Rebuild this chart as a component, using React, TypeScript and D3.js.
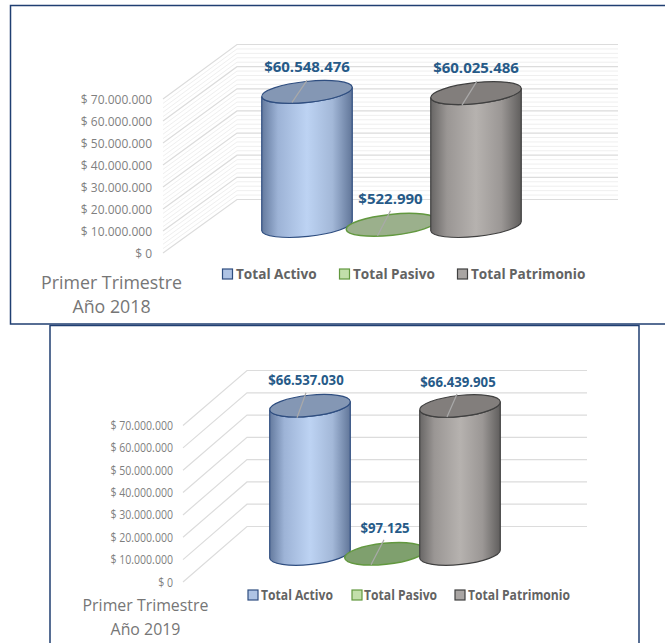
import * as d3 from 'd3'

const categories = ['Total Activo', 'Total Pasivo', 'Total Patrimonio']
const values2018 = [60548476, 522990, 60025486]
const values2019 = [66537030, 97125, 66439905]
const majorTicks = [0, 10000000, 20000000, 30000000, 40000000, 50000000, 60000000, 70000000]
const minorTicks = d3.range(0, 70000001, 2000000)

const FONT = '"Open Sans", "Noto Sans", sans-serif'
const TILT = -6

const locale = d3.formatLocale({ decimal: ',', thousands: '.', grouping: [3], currency: ['$ ', ''] })
const tickFormat = locale.format('$,')
const labelFormat = locale.format(',')

const palette = [
  { top: '#8497b4', edge: '#2f4e80', swatch: '#aec3e4', stops: ['#647a9e', '#9db3d6', '#bdd3f3', '#a3b8d8', '#617699'] },
  { top: '#9bb08c', edge: '#62983f', swatch: '#c2dfaa', stops: ['#9bb08c', '#9bb08c', '#9bb08c', '#9bb08c', '#9bb08c'] },
  { top: '#827e7c', edge: '#404040', swatch: '#a9a5a3', stops: ['#686665', '#9a9694', '#b6b2af', '#9b9795', '#605e5d'] },
]
const stopAt = [0, 0.18, 0.5, 0.78, 1]

type PanelProps = {
  id: string
  values: number[]
  title: string[]
  squeeze: number
  tickRight: number
  wallFront: number
  wallBack: number
  wallRight: number
  front: [number, number]
  back: [number, number]
  minor: boolean
  barX: [number, number]
  barBase: number
  rx: number
  ry: number
  labelGap: number[]
  labelShift: number[]
  leaders: number[][]
  swatchX: number[]
  textX: number[]
  legendY: number
  titleX: number
  titleY: number[]
  titleSize: number
  legendSize: number
  pasivoFill: string
}

const Label = ({ x, y, squeeze, anchor, children, ...rest }: any) => (
  <text
    transform={`translate(${x},${y}) scale(${squeeze},1)`}
    textAnchor={anchor}
    fontFamily={FONT}
    {...rest}
  >
    {children}
  </text>
)

const Panel = (p: PanelProps) => {
  const yFront = d3.scaleLinear().domain([0, 70000000]).range(p.front)
  const yBack = d3.scaleLinear().domain([0, 70000000]).range(p.back)
  const x = d3.scalePoint<string>().domain(categories).range(p.barX)
  // same units as the back wall, moved down to the bar floor
  const yBar = d3.scaleLinear().domain([0, 70000000]).range([p.barBase, p.barBase - (p.back[0] - p.back[1])])

  const rad = (TILT * Math.PI) / 180
  const dx = p.rx * Math.cos(rad)
  const dy = p.rx * Math.sin(rad)

  const side = (cx: number, top: number, base: number) =>
    `M${cx - dx},${top - dy}L${cx - dx},${base - dy}` +
    `A${p.rx},${p.ry} ${TILT} 0 0 ${cx + dx},${base + dy}` +
    `L${cx + dx},${top + dy}` +
    `A${p.rx},${p.ry} ${TILT} 0 1 ${cx - dx},${top - dy}Z`

  return (
    <g>
      <defs>
        {palette.map((c, i) => (
          <linearGradient key={i} id={`${p.id}-side-${i}`} x1="0" x2="1" y1="0" y2="0">
            {c.stops.map((s, j) => (
              <stop key={j} offset={stopAt[j]} stopColor={s} />
            ))}
          </linearGradient>
        ))}
      </defs>

      {minorTicks.map((t) => (
        <g key={t} stroke={majorTicks.includes(t) ? '#dcdcdc' : '#efefef'} strokeWidth={majorTicks.includes(t) ? 1.2 : 1} fill="none">
          {(p.minor || majorTicks.includes(t)) && (
            <path d={`M${p.wallFront},${yFront(t)}L${p.wallBack},${yBack(t)}L${p.wallRight},${yBack(t)}`} />
          )}
        </g>
      ))}

      {majorTicks.map((t) => (
        <Label key={t} x={p.tickRight} y={yFront(t) + 4.5} squeeze={p.squeeze} anchor="end" fontSize={12} fill="#7f7f7f">
          {tickFormat(t)}
        </Label>
      ))}

      {categories.map((c, i) => {
        const cx = x(c) as number
        const base = yBar(0)
        const top = yBar(p.values[i])
        const col = palette[i]
        const isFlat = base - top < 3
        return (
          <g key={c}>
            {!isFlat && (
              <path d={side(cx, top, base)} fill={`url(#${p.id}-side-${i})`} stroke={col.edge} strokeWidth={1.2} />
            )}
            <ellipse
              cx={cx}
              cy={top}
              rx={p.rx}
              ry={p.ry}
              transform={`rotate(${TILT},${cx},${top})`}
              fill={isFlat ? p.pasivoFill : col.top}
              stroke={col.edge}
              strokeWidth={isFlat ? 1.5 : 1.2}
            />
            <path
              d={`M${cx + p.leaders[i][0]},${top + p.leaders[i][1]}L${cx + p.leaders[i][2]},${top + p.leaders[i][3]}`}
              stroke="#a9a9a9"
              strokeWidth={1.2}
              fill="none"
            />
            <Label
              x={cx + p.labelShift[i]}
              y={top - p.labelGap[i]}
              squeeze={p.squeeze}
              anchor="middle"
              fontSize={15}
              fontWeight={700}
              fill="#265a88"
            >
              {`$${labelFormat(p.values[i])}`}
            </Label>
          </g>
        )
      })}

      {categories.map((c, i) => (
        <g key={c}>
          <rect
            x={p.swatchX[i]}
            y={p.legendY - 10}
            width={10}
            height={10}
            fill={palette[i].swatch}
            stroke={palette[i].edge}
            strokeWidth={1.2}
          />
          <Label
            x={p.textX[i]}
            y={p.legendY}
            squeeze={p.squeeze}
            anchor="start"
            fontSize={p.legendSize}
            fontWeight={700}
            fill="#636363"
          >
            {c}
          </Label>
        </g>
      ))}

      {p.title.map((t, i) => (
        <text
          key={t}
          x={p.titleX}
          y={p.titleY[i]}
          textAnchor="middle"
          fontFamily={FONT}
          fontSize={p.titleSize}
          fill="#767676"
        >
          {t}
        </text>
      ))}
    </g>
  )
}

export default function App() {
  return (
    <svg
      width={665}
      height={643}
      style={{ position: 'absolute', left: 0, top: 0, display: 'block', background: '#fff' }}
    >
      <Panel
        id="a"
        values={values2018}
        title={['Primer Trimestre', 'Año 2018']}
        squeeze={1}
        tickRight={152}
        wallFront={163}
        wallBack={237}
        wallRight={618}
        front={[253, 99]}
        back={[199.5, 44.5]}
        minor={true}
        barX={[307, 476]}
        barBase={226}
        rx={45.5}
        ry={10.5}
        labelGap={[20, 21, 20]}
        labelShift={[0, -1, 0]}
        leaders={[[-15, 10.5, 0, -11.5], [-14, 11, -1, -14], [-14, 12, 1, -12]]}
        swatchX={[222.5, 339.5, 457.5]}
        textX={[236, 353, 471]}
        legendY={279}
        titleX={111.5}
        titleY={[289, 313]}
        titleSize={17.8}
        legendSize={13.6}
        pasivoFill="#9bb08c"
      />
      <Panel
        id="b"
        values={values2019}
        title={['Primer Trimestre', 'Año 2019']}
        squeeze={0.88}
        tickRight={173}
        wallFront={183}
        wallBack={247}
        wallRight={587}
        front={[582, 425.5]}
        back={[526.5, 370.5]}
        minor={false}
        barX={[310, 460]}
        barBase={554}
        rx={40.5}
        ry={10.5}
        labelGap={[20.5, 21, 19]}
        labelShift={[-4, 0, -2]}
        leaders={[[-13, 12, -4, -13], [-14, 11, -1, -14], [-13, 11, -3, -12]]}
        swatchX={[248, 352, 455]}
        textX={[261, 364, 468]}
        legendY={600}
        titleX={145.5}
        titleY={[611, 635]}
        titleSize={15.9}
        legendSize={13.8}
        pasivoFill="#7fa06e"
      />

      <g fill="none" stroke="#203f72" strokeWidth={1.5}>
        <path d="M665,5.5H10.5V324H665" />
        <path d="M50,643V325.5H639V643" />
      </g>
    </svg>
  )
}
